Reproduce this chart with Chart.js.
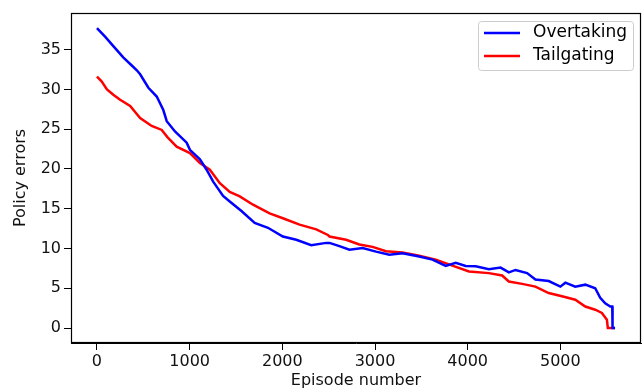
<!DOCTYPE html>
<html>
<head>
<meta charset="utf-8">
<script src="https://cdn.jsdelivr.net/npm/chart.js@4/dist/chart.umd.min.js"></script>
<style>
  body { margin: 0; background: #fff; }
  canvas { display: block; }
</style>
</head>
<body>
<canvas id="chart" width="643" height="390"></canvas>
<script>
// values
const overtakingX = [0, 90, 179, 286, 376, 430, 466, 555, 645, 716, 753, 842, 968, 1003, 1111, 1183, 1254, 1361, 1433, 1559, 1702, 1845, 2006, 2151, 2312, 2473, 2509, 2616, 2724, 2867, 3011, 3154, 3297, 3476, 3620, 3763, 3871, 3978, 4086, 4229, 4355, 4444, 4516, 4641, 4731, 4874, 5000, 5054, 5161, 5269, 5376, 5430, 5484, 5538, 5560, 5563, 5590];
const overtakingY = [37.7, 36.6, 35.4, 34.0, 33.0, 32.4, 31.9, 30.2, 29.1, 27.4, 26.0, 24.7, 23.3, 22.4, 21.2, 19.9, 18.4, 16.6, 15.9, 14.7, 13.2, 12.6, 11.5, 11.1, 10.4, 10.7, 10.7, 10.3, 9.85, 10.05, 9.6, 9.2, 9.4, 9.0, 8.6, 7.8, 8.2, 7.8, 7.75, 7.4, 7.6, 7.0, 7.3, 6.9, 6.1, 5.9, 5.2, 5.7, 5.2, 5.45, 5.0, 3.8, 3.1, 2.7, 2.7, 0, 0];

const tailgatingX = [0, 50, 108, 180, 250, 358, 466, 591, 699, 760, 860, 1003, 1111, 1218, 1326, 1433, 1541, 1684, 1863, 2006, 2186, 2366, 2491, 2509, 2688, 2831, 2974, 3118, 3297, 3476, 3656, 3835, 4014, 4229, 4372, 4444, 4588, 4731, 4874, 5017, 5161, 5269, 5376, 5448, 5502, 5512, 5590];
const tailgatingY = [31.6, 31.0, 30.0, 29.3, 28.7, 27.9, 26.4, 25.4, 24.9, 24.0, 22.8, 22.0, 20.75, 19.9, 18.2, 17.1, 16.55, 15.5, 14.4, 13.8, 13.0, 12.4, 11.7, 11.5, 11.1, 10.5, 10.2, 9.65, 9.5, 9.1, 8.6, 7.85, 7.1, 6.9, 6.6, 5.85, 5.55, 5.2, 4.4, 4.0, 3.55, 2.7, 2.3, 1.9, 1.05, 0, 0];

const xTicks = [0, 1000, 2000, 3000, 4000, 5000];
const yTicks = [0, 5, 10, 15, 20, 25, 30, 35];

const seriesNames = ["Overtaking", "Tailgating"];
const seriesColors = ["#0000ff", "#ff0000"];

const FONT = "'DejaVu Sans', sans-serif";

const toPoints = (xs, ys) => xs.map((x, i) => ({ x: x, y: ys[i] }));

// box round the plot (matplotlib style spines)
const framePlugin = {
  id: "frame",
  afterDraw(chart) {
    const a = chart.chartArea;
    const ctx = chart.ctx;
    ctx.save();
    ctx.strokeStyle = "#000";
    ctx.lineWidth = 1.2;
    ctx.strokeRect(a.left + 0.5, a.top + 0.5, a.right - a.left - 1, a.bottom - a.top - 1);
    ctx.restore();
  },
};

// legend inside the upper right corner
const innerLegend = {
  id: "innerLegend",
  afterDraw(chart) {
    const a = chart.chartArea;
    const ctx = chart.ctx;
    const w = 155, h = 49;
    const x = a.right - 8 - w;
    const y = a.top + 8;
    ctx.save();
    ctx.beginPath();
    ctx.roundRect(x + 0.5, y + 0.5, w, h, 3);
    ctx.fillStyle = "rgba(255,255,255,0.8)";
    ctx.fill();
    ctx.strokeStyle = "#cccccc";
    ctx.lineWidth = 1;
    ctx.stroke();
    ctx.font = "17px " + FONT;
    ctx.textBaseline = "middle";
    chart.data.datasets.forEach((ds, i) => {
      const ly = y + 12 + i * 23;
      ctx.strokeStyle = ds.borderColor;
      ctx.lineWidth = 2.5;
      ctx.beginPath();
      ctx.moveTo(x + 6, ly);
      ctx.lineTo(x + 42, ly);
      ctx.stroke();
      ctx.fillStyle = "#000";
      ctx.fillText(ds.label, x + 55, ly);
    });
    ctx.restore();
  },
};

const ctx = document.getElementById("chart").getContext("2d");
new Chart(ctx, {
  type: "line",
  data: {
    datasets: [
      {
        label: seriesNames[0],
        data: toPoints(overtakingX, overtakingY),
        borderColor: seriesColors[0],
        borderWidth: 2.5,
        pointRadius: 0,
        tension: 0,
        fill: false,
      },
      {
        label: seriesNames[1],
        data: toPoints(tailgatingX, tailgatingY),
        borderColor: seriesColors[1],
        borderWidth: 2.5,
        pointRadius: 0,
        tension: 0,
        fill: false,
      },
    ],
  },
  options: {
    responsive: false,
    animation: false,
    layout: { padding: { left: 0, top: 13, right: 2, bottom: 0 } },
    plugins: {
      legend: { display: false },
      tooltip: { enabled: false },
    },
    scales: {
      x: {
        type: "linear",
        min: -280,
        max: 5870,
        afterBuildTicks: (scale) => {
          scale.ticks = xTicks.map((v) => ({ value: v }));
        },
        afterFit: (scale) => {
          scale.height = 47;
        },
        ticks: {
          font: { family: FONT, size: 16 },
          color: "#111",
          padding: 2,
          maxRotation: 0,
          callback: (v) => String(v),
        },
        grid: {
          drawOnChartArea: false,
          drawTicks: true,
          tickLength: 7,
          color: "#000",
        },
        border: { display: true, color: "#000" },
        title: {
          display: true,
          text: "Episode number",
          font: { family: FONT, size: 16 },
          color: "#111",
          padding: { top: 0, bottom: 0 },
        },
      },
      y: {
        type: "linear",
        min: -1.885,
        max: 39.6,
        afterBuildTicks: (scale) => {
          scale.ticks = yTicks.map((v) => ({ value: v }));
        },
        afterFit: (scale) => {
          scale.width = 71;
        },
        ticks: {
          font: { family: FONT, size: 16 },
          color: "#111",
          padding: 3,
          callback: (v) => String(v),
        },
        grid: {
          drawOnChartArea: false,
          drawTicks: true,
          tickLength: 7,
          color: "#000",
        },
        border: { display: true, color: "#000" },
        title: {
          display: true,
          text: "Policy errors",
          font: { family: FONT, size: 16 },
          color: "#111",
          padding: { top: 11, bottom: 0 },
        },
      },
    },
  },
  plugins: [framePlugin, innerLegend],
});
</script>
</body>
</html>
